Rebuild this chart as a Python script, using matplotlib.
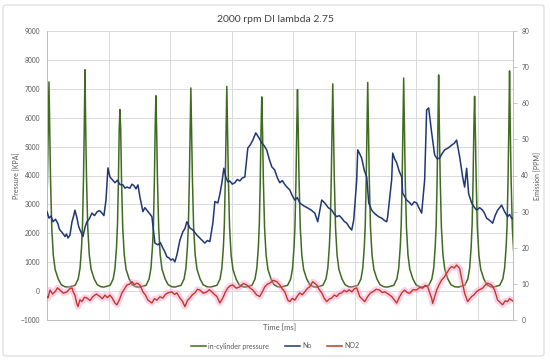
import numpy as np
import matplotlib
matplotlib.use("Agg")
import matplotlib.pyplot as plt
from matplotlib.patches import FancyBboxPatch
from matplotlib.lines import Line2D

plt.rcParams["font.family"] = ["Lato", "DejaVu Sans"]

# in-cylinder pressure: peak times (ms), peak values (kPa) and the cycle shape read around a peak
peak_t = [3.2, 61.7, 118.5, 176.9, 233.7, 292.1, 348.9, 406.9, 464.2, 521.0, 579.4, 636.2, 694.6, 751.4]
peak_p = [7240, 7660, 6280, 6760, 7030, 7080, 6720, 6970, 7170, 7220, 7370, 7480, 6740, 7620]
shape_dt = [-26, -16, -11, -8, -5.5, -4, -2.5, -1.2, 0, 1.2, 2.5, 4.5, 7, 10, 15, 20, 26]
shape_p = [140, 200, 420, 800, 1550, 2300, 3800, 5600, None, 5600, 3900, 2200, 1250, 750, 420, 220, 150]

# NO (ppm)
no_t = [0, 1.6, 3.2, 6.5, 9.7, 13.8, 17.9, 19.5, 21.1, 25.2, 29.2, 31.6, 34.1, 37.3, 40.6, 43.0, 45.4,
        48.7, 51.1, 53.6, 56.0, 58.4, 61.6, 64.9, 69.0, 73.0, 77.1, 81.2, 85.2, 89.3, 92.5, 95.8, 99.0,
        102.2, 106.3, 110.4, 114.4, 118.5, 123.3, 126.6, 129.8, 134.7, 138.0, 141.2, 144.5, 147.7, 150.9,
        155.8, 159.0, 162.3, 166.4, 170.4, 175.3, 180.2, 184.2, 188.3, 191.6, 194.8, 198.0, 201.3, 204.5,
        207.7, 211.0, 215.9, 220.7, 224.0, 227.2, 232.1, 237.0, 240.2, 243.5, 247.5, 251.6, 256.4, 260.5,
        264.5, 269.4, 272.7, 277.5, 281.0, 284.0, 287.3, 290.5, 294.0, 297.0, 301.0, 305.1, 309.1, 313.2,
        317.3, 321.4, 326.2, 330.3, 334.3, 339.2, 344.1, 348.9, 353.0, 357.1, 361.1, 365.2, 370.0, 374.1,
        378.2, 382.2, 386.3, 390.3, 394.4, 398.5, 402.5, 406.6, 410.6, 417.1, 423.6, 429.3, 435.0, 439.8,
        446.3, 451.2, 456.9, 462.6, 466.6, 470.7, 474.7, 478.8, 482.8, 486.9, 491.0, 495.0, 498.3, 503.1,
        504.8, 508.0, 511.2, 515.3, 519.4, 522.6, 527.5, 531.5, 535.6, 539.7, 543.7, 547.8, 551.8, 553.4,
        559.9, 561.6, 564.8, 568.1, 572.1, 576.2, 577.8, 584.3, 588.4, 592.4, 596.5, 600.5, 604.6, 608.6,
        613.5, 616.7, 620.0, 624.9, 629.7, 633.8, 637.8, 641.9, 646.0, 651.6, 657.3, 661.4, 665.4, 670.3,
        675.2, 678.4, 681.7, 684.9, 689.8, 693.8, 697.9, 702.8, 707.6, 710.9, 714.1, 719.0, 723.9, 728.0,
        732.0, 738.5, 743.3, 748.2, 751.4, 754.7, 757.0]
no_v = [30.0, 29.1, 28.2, 28.8, 27.2, 27.9, 26.6, 25.4, 24.9, 24.1, 23.1, 23.8, 22.7, 23.5, 27.2, 28.6, 30.4,
        28.2, 26.1, 24.9, 24.1, 23.1, 25.6, 27.2, 28.1, 29.6, 28.9, 29.9, 30.3, 29.6, 28.9, 33.2, 42.1,
        39.6, 38.8, 38.0, 38.7, 37.5, 37.4, 36.5, 36.8, 36.5, 37.6, 37.2, 36.3, 37.4, 34.1,
        30.0, 31.1, 30.4, 29.5, 28.6, 21.3, 20.8, 21.4, 19.9, 18.8, 17.5, 17.2, 16.6, 16.9,
        16.1, 18.0, 22.1, 24.4, 25.3, 27.2, 25.5, 24.9, 24.2, 23.5, 22.8, 22.1, 21.3, 22.0,
        21.7, 26.8, 32.8, 32.4, 35.0, 37.9, 42.0, 39.5, 38.2, 38.5, 37.6, 38.0, 38.9, 38.5,
        39.3, 39.6, 47.6, 48.5, 49.8, 51.8, 50.5, 49.0, 48.2, 47.0, 44.5, 42.4, 41.5, 39.4,
        38.0, 38.6, 37.5, 36.7, 36.0, 34.4, 33.2, 33.9, 32.4, 31.6, 31.0, 30.4, 29.6, 27.2,
        33.2, 32.4, 31.1, 30.4, 29.3, 28.6, 28.9, 28.2, 27.3, 26.8, 25.7, 24.9, 27.7, 38.8,
        47.1, 46.0, 44.8, 41.5, 39.6, 32.4, 30.4, 29.6, 29.0, 28.5, 28.2, 27.6, 27.2, 28.6,
        38.8, 46.2, 44.6, 43.5, 41.2, 39.6, 35.1, 33.2, 32.6, 31.8, 32.7, 32.4, 30.9, 29.6,
        38.8, 58.1, 58.7, 51.8, 45.7, 44.6, 44.8, 46.1, 47.1, 47.6, 48.4, 48.9, 49.8, 45.2,
        39.6, 36.8, 42.0, 35.0, 32.4, 31.3, 30.4, 31.1, 30.4, 29.5, 28.2, 27.6, 26.8, 28.9,
        30.4, 31.8, 30.0, 28.6, 29.2, 28.2, 28.0]

# NO2 (ppm)
no2_t = [0, 1.6, 4.9, 9.0, 13.0, 17.0, 21.1, 26.8, 32.5, 36.6, 40.6, 43.0, 45.4, 48.0, 50.3, 53.5,
         56.8, 60.9, 64.9, 69.8, 74.7, 80.3, 86.0, 90.0, 94.1, 98.1, 102.2, 106.3, 110.4, 113.6, 117.6,
         121.7, 125.8, 129.8, 133.9, 138.0, 142.0, 146.1, 150.9, 155.8, 159.9, 163.9, 170.4, 174.5,
         178.5, 183.4, 188.3, 192.4, 196.4, 202.9, 207.0, 211.0, 215.9, 220.0, 224.0, 228.1, 232.1,
         236.2, 240.2, 244.3, 248.3, 254.0, 259.7, 263.8, 267.8, 271.9, 275.9, 280.8, 285.6, 289.7,
         293.8, 297.8, 301.9, 307.6, 313.2, 318.9, 324.6, 329.5, 334.3, 340.8, 345.7, 349.8, 353.8,
         357.9, 361.9, 367.6, 373.3, 378.2, 382.2, 386.3, 391.2, 394.4, 398.5, 402.5, 406.6, 410.6,
         414.7, 418.7, 422.8, 426.8, 431.7, 438.2, 442.3, 446.3, 450.4, 454.4, 458.5, 462.6, 466.6,
         470.7, 474.7, 478.8, 482.8, 486.9, 491.0, 495.0, 499.0, 503.1, 508.0, 512.0, 516.1, 521.0,
         525.0, 529.1, 534.8, 540.5, 544.5, 548.6, 554.3, 559.9, 564.0, 568.1, 572.1, 576.2, 581.0,
         585.1, 589.1, 594.8, 600.5, 605.3, 610.2, 614.3, 618.4, 624.9, 626.5, 633.0, 637.0, 641.1,
         645.1, 649.2, 653.3, 657.3, 661.4, 665.4, 670.3, 673.5, 678.4, 683.3, 689.8, 693.8, 697.9,
         702.8, 707.6, 711.6, 715.7, 722.2, 727.1, 732.0, 736.0, 740.1, 744.2, 748.2, 751.4, 754.7, 757.0]
no2_v = [6.5, 6.1, 8.3, 7.2, 7.8, 8.9, 8.3, 7.4, 7.8, 8.6, 8.9, 7.6, 6.9, 4.8, 3.7, 5.6,
         5.1, 6.3, 6.1, 5.4, 6.5, 7.2, 6.5, 5.9, 6.9, 6.2, 6.9, 6.0, 4.7, 4.2, 5.6,
         7.5, 8.6, 9.7, 9.9, 10.6, 9.8, 10.2, 9.7, 7.8, 6.9, 5.5, 4.7, 5.9,
         5.5, 6.4, 6.1, 7.1, 7.5, 7.8, 7.1, 7.5, 6.1, 5.2, 3.7, 5.4, 6.1,
         7.0, 7.5, 8.5, 8.3, 7.4, 7.8, 8.4, 7.8, 7.1, 6.5, 4.7, 6.1, 7.7,
         8.9, 9.5, 9.7, 8.8, 9.2, 10.1, 9.7, 8.9, 8.3, 6.9, 6.5, 7.8, 9.2,
         9.9, 10.2, 11.0, 10.6, 9.7, 8.6, 7.8, 5.5, 5.1, 6.0, 5.5, 6.6, 7.5,
         7.0, 7.8, 8.7, 9.2, 10.6, 9.7, 8.4, 7.5, 6.0, 5.1, 5.8, 6.1, 6.9,
         6.5, 7.3, 7.5, 8.2, 7.8, 8.4, 7.8, 8.6, 8.9, 6.5, 5.8, 5.1, 6.5,
         7.4, 7.8, 8.5, 8.3, 7.6, 7.8, 7.2, 6.5, 5.6, 4.7, 6.2, 7.5, 8.3,
         7.6, 7.4, 8.4, 8.3, 9.0, 8.8, 9.6, 9.2, 6.0, 4.6, 8.3, 9.8, 11.1,
         11.8, 12.9, 14.1, 14.8, 14.4, 15.2, 14.3, 11.5, 7.4, 5.1, 6.5, 7.0, 7.9,
         8.4, 8.8, 9.6, 10.2, 9.7, 8.3, 5.5, 4.9, 4.2, 5.3, 5.1, 5.9, 5.5, 5.2]

# pressure trace laid out from the read peaks and shape
p_t, p_v = [], []
for tp, pp in zip(peak_t, peak_p):
    for dt, v in zip(shape_dt, shape_p):
        p_t.append(tp + dt)
        p_v.append(pp if v is None else v)

fig = plt.figure(figsize=(5.5, 3.61), dpi=100)
fig.patches.append(FancyBboxPatch((3 / 550, 5 / 361), 541 / 550, 351 / 361,
                                  boxstyle="round,pad=0,rounding_size=0.006",
                                  transform=fig.transFigure, fill=False,
                                  edgecolor="#d9d9d9", linewidth=0.8))
ax = fig.add_axes([47 / 550, 41 / 361, 466 / 550, 289 / 361])
ax2 = ax.twinx()

grey = "#595959"
ax.plot(p_t, p_v, color="#3f6b21", lw=1.1, zorder=3)
ax.set_xlim(0, 757)
ax.set_ylim(-1000, 9000)
ax.set_yticks(range(-1000, 9001, 1000))
ax.set_xticks(range(100, 701, 100))
ax.grid(True, color="#d9d9d9", lw=0.7)
ax.set_axisbelow(True)
ax.tick_params(axis="x", length=0, labelbottom=False)
ax.tick_params(axis="y", length=0, labelsize=4.8, labelcolor=grey, pad=5)
ax.set_ylabel("Pressure [KPA]", fontsize=5, color=grey)
ax.yaxis.set_label_coords(-0.057, 0.5)
ax.set_xlabel("Time [ms]", fontsize=5.5, color=grey, labelpad=3)

ax2.plot(no2_t, no2_v, color="#ff8fd0", lw=4.5, alpha=0.4, zorder=2, solid_capstyle="butt")
ax2.plot(no_t, no_v, color="#1f3677", lw=1.1, zorder=4)
ax2.plot(no2_t, no2_v, color="#c2381f", lw=1.0, zorder=5)
ax2.set_ylim(0, 80)
ax2.set_yticks(range(0, 81, 10))
ax2.tick_params(axis="y", length=3, width=0.6, color="#bfbfbf", labelsize=4.8, labelcolor=grey, pad=3)
ax2.set_ylabel("Emission [PPM]", fontsize=5, color=grey)
ax2.yaxis.set_label_coords(1.044, 0.5)

for a in (ax, ax2):
    a.spines["top"].set_visible(False)
    for s in ("left", "right", "bottom"):
        a.spines[s].set_color("#bfbfbf")
        a.spines[s].set_linewidth(0.7)

fig.text(0.5, 1 - 20 / 361, "2000 rpm DI lambda 2.75", ha="center", va="center",
         fontsize=7.5, color="#404040")

handles = [Line2D([], [], color="#3f6b21", lw=1.1),
           Line2D([], [], color="#1f3677", lw=1.1),
           Line2D([], [], color="#c2381f", lw=1.1)]
fig.legend(handles, ["in-cylinder pressure", "No", "NO2"], loc="center",
           bbox_to_anchor=(0.5, 1 - 346 / 361), ncol=3, frameon=False, fontsize=5,
           handlelength=2.2, handletextpad=0.3, columnspacing=2.2, labelcolor=grey)

fig.savefig("out.png", dpi=100)
